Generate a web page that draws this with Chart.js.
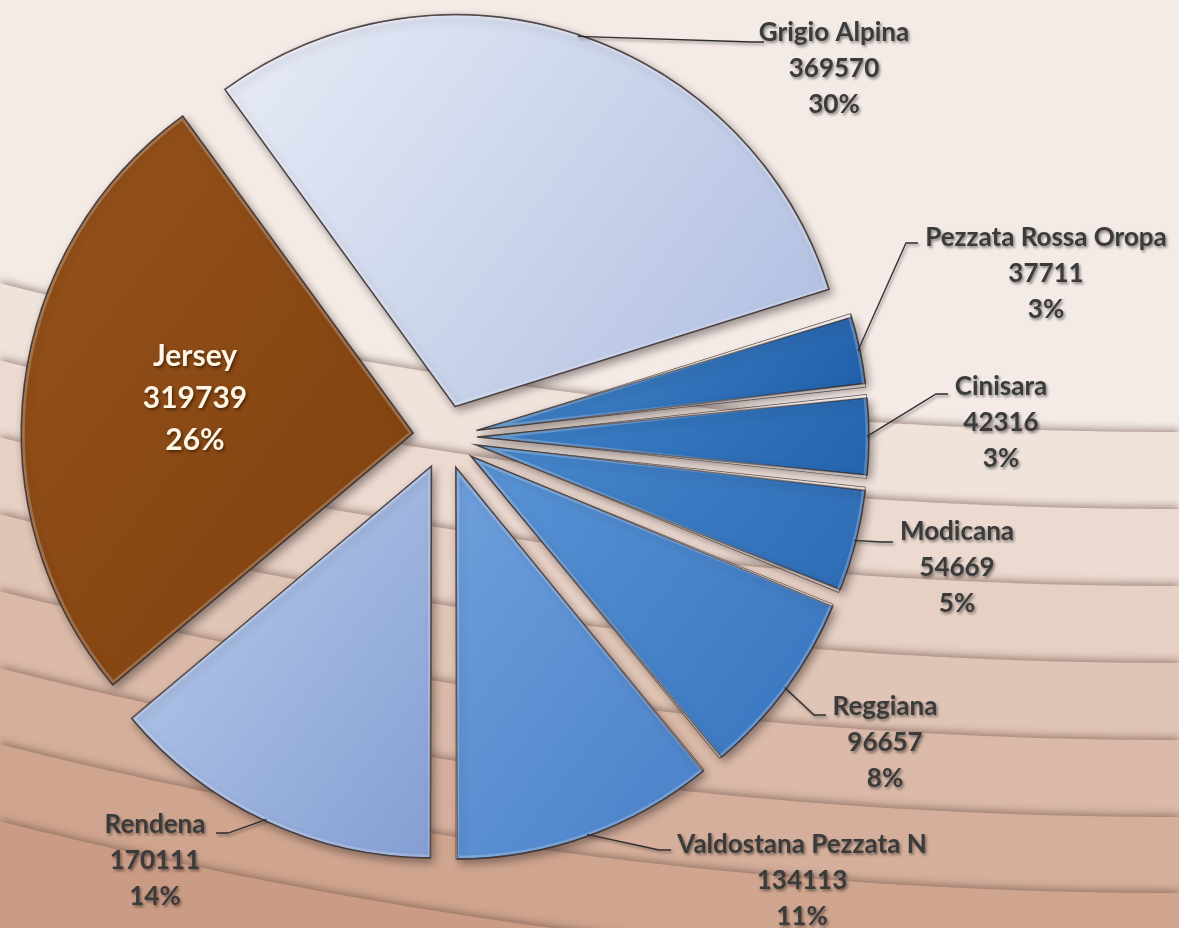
<!DOCTYPE html>
<html lang="it">
<head>
<meta charset="utf-8">
<title>Razze bovine</title>
<script src="https://cdn.jsdelivr.net/npm/chart.js@4.4.1/dist/chart.umd.min.js"></script>
<style>
  html, body { margin: 0; padding: 0; overflow: hidden; background: #f4ebe6; }
  #wrap { position: relative; width: 1179px; height: 928px; }
</style>
</head>
<body>
<div id="wrap"><canvas id="torta"></canvas></div>
<script>
// ======== DATI ========
const razze = ['Grigio Alpina', 'Pezzata Rossa Oropa', 'Cinisara', 'Modicana', 'Reggiana', 'Valdostana Pezzata N', 'Rendena', 'Jersey'];
const valori = [369570, 37711, 42316, 54669, 96657, 134113, 170111, 319739];
const percentuali = ['30%', '3%', '3%', '5%', '8%', '11%', '14%', '26%'];

// ======== STILE ========
const coloriChiari = ['#e6eaf5', '#3f80c6', '#3d7fc6', '#4686cc', '#5892d5', '#6d9edb', '#a9bee4', '#93501a'];
const coloriScuri  = ['#b4c2e3', '#1f5ea7', '#2262ab', '#2d6bb4', '#3b78c1', '#4a82c9', '#839ed2', '#844512'];

const RAGGIO = 392;       // raggio della torta
const STACCO = 128;       // offset Chart.js (lo spostamento reale è offset / 4)
const ROTAZIONE = -36;

// posizione delle etichette: centro del testo, prima riga, fine della linea guida
const etichette = [
  { x: 834, y: 33, lx: 764, ly: 42 },
  { x: 1046, y: 238, lx: 918, ly: 243 },
  { x: 1001, y: 387, lx: 948, ly: 394 },
  { x: 957, y: 532, lx: 893, ly: 542 },
  { x: 885, y: 707, lx: 826, ly: 715 },
  { x: 802, y: 845, lx: 671, ly: 850 },
  { x: 155, y: 825, lx: 216, ly: 833 },
  { x: 195, y: 356, interna: true }
];

// bande dello sfondo (quota sul bordo destro)
const bandeY = [432, 509, 586, 663, 740, 817, 893, 970];
const bandeColori = ['#f0e3dc', '#ecdad0', '#e6cfc3', '#e0c4b5', '#dab9a8', '#d5af9b', '#d0a58f', '#cb9c85'];

// sfumatura di ogni fetta, calcolata dalla sua geometria
function sfumatura(context) {
  const i = context.dataIndex;
  const chart = context.chart;
  const area = chart.chartArea;
  if (i === undefined || !area) return coloriScuri[0];
  const cx = (area.left + area.right) / 2;
  const cy = (area.top + area.bottom) / 2;
  const totale = valori.reduce((a, b) => a + b, 0);
  let a0 = ROTAZIONE * Math.PI / 180 - Math.PI / 2;
  for (let k = 0; k < i; k++) a0 += valori[k] / totale * 2 * Math.PI;
  const a1 = a0 + valori[i] / totale * 2 * Math.PI;
  const mid = (a0 + a1) / 2;
  const tx = cx + Math.cos(mid) * STACCO / 4;
  const ty = cy + Math.sin(mid) * STACCO / 4;
  const dx = 0.8, dy = 0.6;
  let min = tx * dx + ty * dy, max = min;
  for (let s = 0; s <= 12; s++) {
    const a = a0 + (a1 - a0) * s / 12;
    const p = (tx + Math.cos(a) * RAGGIO) * dx + (ty + Math.sin(a) * RAGGIO) * dy;
    min = Math.min(min, p);
    max = Math.max(max, p);
  }
  const g = chart.ctx.createLinearGradient(dx * min, dy * min, dx * max, dy * max);
  g.addColorStop(0, coloriChiari[i]);
  g.addColorStop(1, coloriScuri[i]);
  return g;
}

// ======== PLUGIN ========
const sfondo = {
  id: 'sfondo',
  beforeDraw(chart) {
    const ctx = chart.ctx;
    const w = chart.width, h = chart.height;
    const curva = 1.07e-4;
    ctx.save();
    ctx.fillStyle = '#f4ebe6';
    ctx.fillRect(0, 0, w, h);
    bandeY.forEach((yb, i) => {
      ctx.save();
      ctx.beginPath();
      for (let x = 0; x <= w; x += 8) {
        const y = yb - curva * Math.pow(w - x, 2);
        if (x === 0) ctx.moveTo(x, y); else ctx.lineTo(x, y);
      }
      ctx.lineTo(w, yb);
      ctx.lineTo(w, h + 30);
      ctx.lineTo(0, h + 30);
      ctx.closePath();
      ctx.shadowColor = 'rgba(100,70,60,0.6)';
      ctx.shadowBlur = 8;
      ctx.shadowOffsetY = -2;
      ctx.fillStyle = bandeColori[i];
      ctx.fill();
      ctx.restore();
    });
    ctx.restore();
  }
};

// Chart.js allarga le fette strette quando c'è l'offset: qui si riporta tutto allo stesso raggio
const raggioUguale = {
  id: 'raggioUguale',
  afterDatasetUpdate(chart, args) {
    args.meta.data.forEach(arc => {
      const fix = 1 - Math.sin(Math.min(Math.PI, arc.circumference));
      arc.outerRadius = RAGGIO - (STACCO / 4) * fix;
    });
  }
};

const ombra = {
  id: 'ombra',
  beforeDatasetsDraw(chart) {
    const ctx = chart.ctx;
    ctx.save();
    ctx.shadowColor = 'rgba(40,30,30,0.45)';
    ctx.shadowBlur = 9;
    ctx.shadowOffsetX = 3;
    ctx.shadowOffsetY = 4;
  },
  afterDatasetsDraw(chart) {
    const ctx = chart.ctx;
    ctx.restore();
    // leggero rilievo interno sui bordi delle fette
    chart.getDatasetMeta(0).data.forEach(arc => {
      const mid = (arc.startAngle + arc.endAngle) / 2;
      const tx = arc.x + Math.cos(mid) * STACCO / 4;
      const ty = arc.y + Math.sin(mid) * STACCO / 4;
      ctx.save();
      ctx.beginPath();
      ctx.moveTo(tx, ty);
      ctx.arc(tx, ty, RAGGIO, arc.startAngle, arc.endAngle);
      ctx.closePath();
      ctx.clip();
      ctx.strokeStyle = 'rgba(255,255,255,0.22)';
      ctx.lineWidth = 7;
      ctx.lineJoin = 'round';
      ctx.stroke();
      ctx.strokeStyle = 'rgba(45,35,35,0.75)';
      ctx.lineWidth = 1.5;
      ctx.stroke();
      ctx.restore();
    });
  }
};

const testi = {
  id: 'testi',
  afterDraw(chart) {
    const ctx = chart.ctx;
    const meta = chart.getDatasetMeta(0);
    meta.data.forEach((arc, i) => {
      const et = etichette[i];
      const mid = (arc.startAngle + arc.endAngle) / 2;
      ctx.save();
      ctx.shadowColor = 'rgba(0,0,0,0.45)';
      ctx.shadowBlur = 3;
      ctx.shadowOffsetX = 1.5;
      ctx.shadowOffsetY = 2;

      // linea guida
      if (!et.interna) {
        const d = STACCO / 4 + RAGGIO - 2;
        const sx = arc.x + Math.cos(mid) * d;
        const sy = arc.y + Math.sin(mid) * d;
        const gomito = et.lx > sx ? et.lx - 12 : et.lx + 12;
        ctx.beginPath();
        ctx.moveTo(sx, sy);
        ctx.lineTo(gomito, et.ly);
        ctx.lineTo(et.lx, et.ly);
        ctx.strokeStyle = '#2e2e2e';
        ctx.lineWidth = 1.3;
        ctx.stroke();
      }

      // testo
      const dim = et.interna ? 30 : 26;
      const passo = et.interna ? 42 : 36;
      ctx.font = 'bold ' + dim + 'px Lato, "Open Sans", sans-serif';
      ctx.textAlign = 'center';
      ctx.textBaseline = 'middle';
      ctx.fillStyle = et.interna ? '#fff6e6' : '#3b3b3b';
      const righe = [razze[i], String(valori[i]), percentuali[i]];
      righe.forEach((t, r) => ctx.fillText(t, et.x, et.y + r * passo));
      ctx.restore();
    });
  }
};

// ======== GRAFICO ========
new Chart(document.getElementById('torta'), {
  type: 'pie',
  data: {
    labels: razze,
    datasets: [{
      data: valori,
      backgroundColor: sfumatura,
      borderColor: 'rgba(45,35,35,0.75)',
      borderWidth: 1.5,
      borderJoinStyle: 'miter',
      offset: STACCO,
      radius: RAGGIO
    }]
  },
  options: {
    responsive: true,
    maintainAspectRatio: false,
    animation: false,
    rotation: ROTAZIONE,
    layout: { padding: { left: 0, right: 289, top: 0, bottom: 54 } },
    plugins: {
      legend: { display: false },
      tooltip: { enabled: false }
    }
  },
  plugins: [sfondo, raggioUguale, ombra, testi]
});
</script>
</body>
</html>
